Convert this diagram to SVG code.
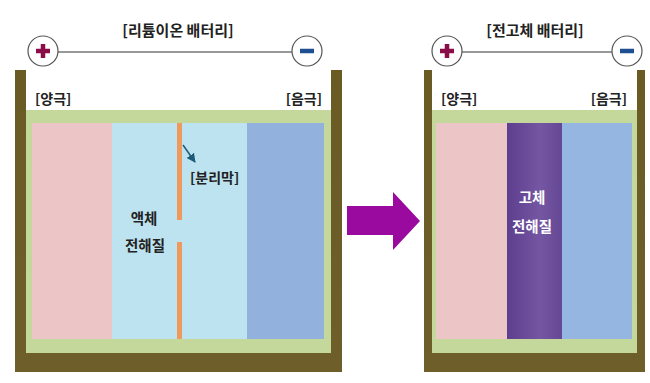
<svg xmlns="http://www.w3.org/2000/svg" width="650" height="383" viewBox="0 0 650 383">
<style>
text{font-family:"Noto Sans CJK KR","Noto Sans",sans-serif;}
.title{font-size:15px;font-weight:bold;fill:#222;text-anchor:middle;}
.lbl{font-size:14px;font-weight:bold;fill:#222;}
.mid{font-size:14.5px;font-weight:bold;fill:#222;text-anchor:middle;}
.wht{font-size:14.5px;font-weight:bold;fill:#fff;text-anchor:middle;}
.term{fill:#fff;stroke:#555;stroke-width:1.2;}
.wire{stroke:#333;stroke-width:1;}
</style>
<defs>
<linearGradient id="frame" x1="0" y1="0" x2="0" y2="1">
<stop offset="0" stop-color="#6a5a24"/><stop offset="1" stop-color="#6e5e2a"/>
</linearGradient>
<linearGradient id="purp" x1="0" y1="0" x2="1" y2="0">
<stop offset="0" stop-color="#5e3e8e"/><stop offset="0.6" stop-color="#7456a2"/><stop offset="1" stop-color="#654895"/>
</linearGradient>
<marker id="ah" viewBox="0 0 10 10" refX="9" refY="5" markerWidth="6" markerHeight="6" orient="auto">
<path d="M0,0 L10,5 L0,10 z" fill="#1e5b78"/>
</marker>
</defs>

<g id="battery-left">
<text class="title" x="178" y="36">[리튬이온 배터리]</text>
<line class="wire" x1="58" y1="52" x2="292" y2="52"/>
<g id="plus-left"><circle class="term" cx="43" cy="51" r="15"/><path d="M36,51 H50 M43,44 V58" stroke="#8a0c48" stroke-width="4.5"/></g>
<g id="minus-left"><circle class="term" cx="307" cy="51" r="15"/><path d="M300,51 H314" stroke="#1f4f92" stroke-width="4.5"/></g>
<rect x="15" y="70" width="327" height="302" fill="url(#frame)"/>
<rect x="26" y="70" width="305" height="40" fill="#fff"/>
<rect x="26" y="110" width="305" height="243" fill="#c3d89a"/>
<rect x="32" y="123" width="80" height="216" fill="#ecc6c6"/>
<rect x="112" y="123" width="135" height="216" fill="#bee3f0"/>
<rect x="247" y="123" width="77" height="216" fill="#92b1dc"/>
<rect x="177" y="123" width="5" height="97" fill="#ef9a5c"/>
<rect x="177" y="242" width="5" height="97" fill="#ef9a5c"/>
<line x1="183" y1="145" x2="195" y2="162" stroke="#1e5b78" stroke-width="1.5" marker-end="url(#ah)"/>
<text class="lbl" x="35" y="104">[양극]</text>
<text class="lbl" x="322" y="104" text-anchor="end">[음극]</text>
<text class="lbl" x="190" y="183">[분리막]</text>
<text class="mid" x="144" y="224">액체</text>
<text class="mid" x="145" y="251">전해질</text>
</g>

<g id="connectors">
<path d="M347,206 H393 V192 L420,221 L393,250 V235 H347 Z" fill="#9a0a9e"/>
</g>

<g id="battery-right">
<text class="title" x="535" y="36">[전고체 배터리]</text>
<line class="wire" x1="462" y1="52" x2="612" y2="52"/>
<g id="plus-right"><circle class="term" cx="447" cy="51" r="15"/><path d="M440,51 H454 M447,44 V58" stroke="#8a0c48" stroke-width="4.5"/></g>
<g id="minus-right"><circle class="term" cx="627" cy="51" r="15"/><path d="M620,51 H634" stroke="#1f4f92" stroke-width="4.5"/></g>
<rect x="424" y="70" width="221" height="302" fill="url(#frame)"/>
<rect x="432" y="70" width="205" height="40" fill="#fff"/>
<rect x="432" y="110" width="205" height="243" fill="#c3d89a"/>
<rect x="436" y="123" width="71" height="216" fill="#ecc6c6"/>
<rect x="507" y="123" width="55" height="216" fill="url(#purp)"/>
<rect x="562" y="123" width="70" height="216" fill="#95b6e0"/>
<text class="lbl" x="441" y="104">[양극]</text>
<text class="lbl" x="627" y="104" text-anchor="end">[음극]</text>
<text class="wht" x="532" y="203">고체</text>
<text class="wht" x="532" y="232">전해질</text>
</g>
</svg>
